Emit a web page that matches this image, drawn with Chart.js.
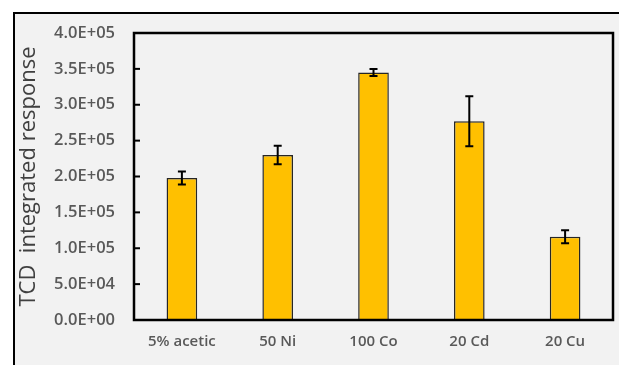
<!DOCTYPE html>
<html>
<head>
<meta charset="utf-8">
<script src="https://cdn.jsdelivr.net/npm/chart.js@4.4.0/dist/chart.umd.min.js"></script>
<style>
html,body{margin:0;padding:0;background:#fff;}
#wrap{position:relative;width:619px;height:365px;}
</style>
</head>
<body>
<div id="wrap"><canvas id="c" width="619" height="365"></canvas></div>
<script>
const categories = ["5% acetic", "50 Ni", "100 Co", "20 Cd", "20 Cu"];
const values = [198000, 230000, 345000, 277000, 116000];
const errors = [9000, 13000, 5000, 35000, 9000];
const yTicks = [0, 50000, 100000, 150000, 200000, 250000, 300000, 350000, 400000];
const yTitle = "TCD  integrated response";

function fmtE(v) {
  if (v === 0) return "0.0E+00";
  const e = Math.floor(Math.log10(Math.abs(v)));
  const m = v / Math.pow(10, e);
  return m.toFixed(1) + "E+" + String(e).padStart(2, "0");
}

const bgPlugin = {
  id: 'bg',
  beforeDraw(chart) {
    const ctx = chart.ctx;
    ctx.save();
    ctx.fillStyle = '#ffffff';
    ctx.fillRect(0, 0, chart.width, chart.height);
    ctx.fillStyle = '#f2f2f2';
    ctx.fillRect(14, 13, chart.width - 14, chart.height - 13);
    ctx.strokeStyle = '#000';
    ctx.lineWidth = 2;
    ctx.beginPath();
    ctx.moveTo(14, chart.height + 2);
    ctx.lineTo(14, 13);
    ctx.lineTo(chart.width + 2, 13);
    ctx.stroke();
    ctx.restore();
  }
};

const framePlugin = {
  id: 'frame',
  afterDatasetsDraw(chart) {
    const ctx = chart.ctx;
    const a = chart.chartArea;
    const y = chart.scales.y;
    const x = chart.scales.x;
    ctx.save();
    ctx.strokeStyle = '#000';
    ctx.lineWidth = 2;
    values.forEach((v, i) => {
      const px = x.getPixelForValue(i);
      const yt = y.getPixelForValue(v + errors[i]);
      const yb = y.getPixelForValue(v - errors[i]);
      ctx.beginPath();
      ctx.moveTo(px, yt); ctx.lineTo(px, yb);
      ctx.moveTo(px - 4, yt); ctx.lineTo(px + 4, yt);
      ctx.moveTo(px - 4, yb); ctx.lineTo(px + 4, yb);
      ctx.stroke();
    });
    ctx.lineWidth = 2.5;
    ctx.strokeRect(a.left, a.top, a.right - a.left, a.bottom - a.top);
    ctx.lineWidth = 2;
    yTicks.forEach(t => {
      const py = y.getPixelForValue(t);
      ctx.beginPath();
      ctx.moveTo(a.left, py); ctx.lineTo(a.left + 6, py);
      ctx.stroke();
    });
    ctx.restore();
  }
};

new Chart(document.getElementById('c'), {
  type: 'bar',
  data: {
    labels: categories,
    datasets: [{
      data: values,
      backgroundColor: '#FFC000',
      borderColor: '#262626',
      borderWidth: 1.5,
      barPercentage: 0.32,
      categoryPercentage: 1.0
    }]
  },
  options: {
    responsive: false,
    animation: false,
    devicePixelRatio: 1,
    layout: { padding: { left: 0, top: 33, right: 6, bottom: 0 } },
    plugins: { legend: { display: false }, tooltip: { enabled: false } },
    scales: {
      x: {
        grid: { display: false, drawTicks: false },
        border: { display: false },
        ticks: { color: '#595959', font: { family: 'Open Sans', size: 15, weight: '600' }, padding: 13, maxRotation: 0 },
        afterFit(s) { s.height = 45; }
      },
      y: {
        min: 0, max: 400000,
        afterBuildTicks(s) { s.ticks = yTicks.map(v => ({ value: v })); },
        grid: { display: false, drawTicks: false },
        border: { display: false },
        ticks: { color: '#595959', font: { family: 'Open Sans', size: 16.5, weight: '600' }, padding: 19, callback: v => fmtE(v) },
        title: { display: true, text: yTitle, color: '#404040', font: { family: 'Open Sans', size: 22, weight: 'normal' }, padding: { top: 16, bottom: 0 } },
        afterFit(s) { s.width = 134; }
      }
    }
  },
  plugins: [bgPlugin, framePlugin]
});
</script>
</body>
</html>
